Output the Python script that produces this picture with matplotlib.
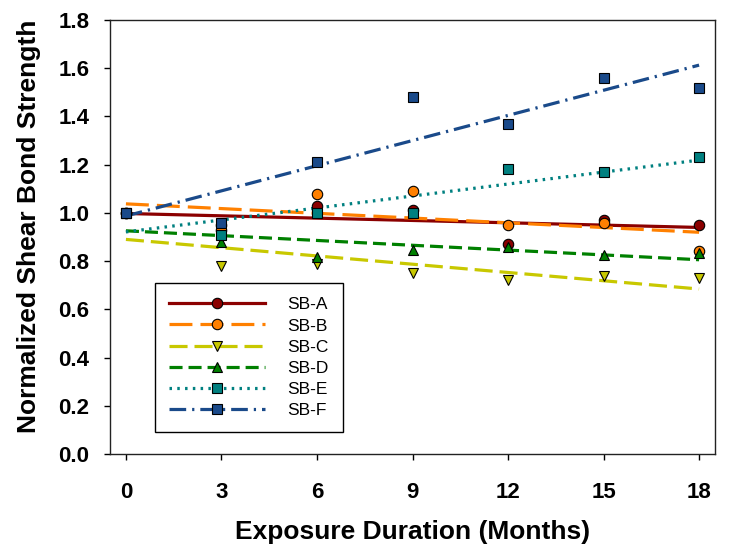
import numpy as np
import matplotlib
matplotlib.use("Agg")
from matplotlib import pyplot as plt
from matplotlib.lines import Line2D

plt.rcParams["font.family"] = ["Liberation Sans", "DejaVu Sans"]
plt.rcParams["lines.scale_dashes"] = False

months = [0, 3, 6, 9, 12, 15, 18]
labels = ["SB-A", "SB-B", "SB-C", "SB-D", "SB-E", "SB-F"]

sb_a = [1.00, 0.95, 1.03, 1.01, 0.87, 0.97, 0.95]
sb_b = [1.00, 0.93, 1.08, 1.09, 0.95, 0.96, 0.84]
sb_c = [1.00, 0.78, 0.79, 0.75, 0.72, 0.74, 0.73]
sb_d = [1.00, 0.88, 0.815, 0.845, 0.86, 0.825, 0.835]
sb_e = [1.00, 0.91, 1.00, 1.00, 1.18, 1.17, 1.23]
sb_f = [1.00, 0.96, 1.21, 1.48, 1.37, 1.56, 1.52]
series = [sb_a, sb_b, sb_c, sb_d, sb_e, sb_f]

colors = ["#8b0000", "#ff8000", "#c8c800", "#008000", "#008080", "#1a4a8a"]
markers = ["o", "o", "v", "^", "s", "s"]
# dash patterns in points (on, off, ...)
dashes = [
    None,
    (0, (16.5, 5.8)),
    (0, (13, 5)),
    (0, (9.4, 4.3)),
    (0, (1.8, 3.8)),
    (0, (12, 4.3, 1.6, 4.3)),
]

fig = plt.figure(figsize=(7.42, 5.58), dpi=100)
ax = fig.add_axes([110 / 742, 1 - 454 / 558, 605 / 742, 434 / 558])

x = np.array(months, dtype=float)
handles = []
# linear trend lines first, markers on top
for vals, c, ls in zip(series, colors, dashes):
    k, b = np.polyfit(x, vals, 1)
    ax.plot([x[0], x[-1]], [b, b + k * x[-1]], color=c, lw=2.3,
            linestyle="-" if ls is None else ls, zorder=2)
for vals, c, m, ls, lab in zip(series, colors, markers, dashes, labels):
    ax.plot(x, vals, linestyle="none", marker=m, markersize=7.5,
            markerfacecolor=c, markeredgecolor="black", markeredgewidth=0.8,
            zorder=3)
    handles.append(Line2D([], [], color=c, lw=2.3,
                          linestyle="-" if ls is None else ls,
                          marker=m, markersize=7.5, markerfacecolor=c,
                          markeredgecolor="black", markeredgewidth=0.8,
                          label=lab))

ax.set_xlim(-0.5, 18.5)
ax.set_ylim(0, 1.8)
ax.set_xticks(months)
ax.set_yticks(np.arange(0, 1.81, 0.2))
ax.yaxis.set_major_formatter(matplotlib.ticker.FormatStrFormatter("%.1f"))

ax.tick_params(direction="out", length=4, width=1, top=False, right=False)
ax.tick_params(axis="x", pad=16, labelsize=16)
ax.tick_params(axis="y", pad=11, labelsize=16)
for lab in ax.get_xticklabels() + ax.get_yticklabels():
    lab.set_fontweight("bold")
for sp in ax.spines.values():
    sp.set_linewidth(1)
    sp.set_color("#222222")

ax.set_xlabel("Exposure Duration (Months)", fontsize=19, fontweight="bold",
              labelpad=12.5)
ax.set_ylabel("Normalized Shear Bond Strength", fontsize=19,
              fontweight="bold", labelpad=12.5)
ax.yaxis.label.set_y(0.525)

leg = ax.legend(handles=handles, loc="lower left",
                bbox_to_anchor=(0.0744, 0.0507), borderaxespad=0,
                fontsize=12.5, handlelength=5.5, handletextpad=1.32,
                labelspacing=0.34, borderpad=0.82, fancybox=False,
                framealpha=1, edgecolor="black")
leg.get_frame().set_linewidth(1)

fig.savefig("out.png", dpi=100)
